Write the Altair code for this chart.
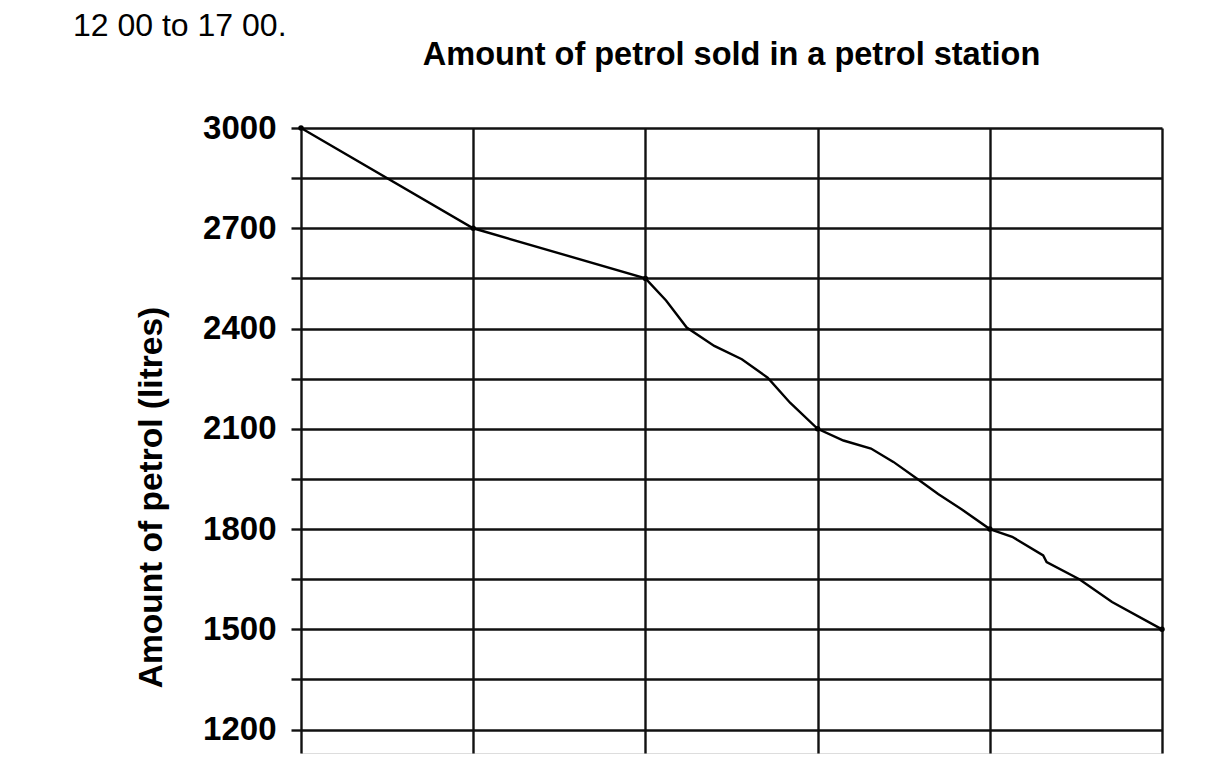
import altair as alt
import pandas as pd

# Main readings: hours after 12:00 and litres of petrol in the tank
hours = [0, 1, 2, 3, 4, 5]
petrol = [3000, 2700, 2550, 2100, 1800, 1500]

# Hand-drawn path (hour position, litres)
trace_t = [0, 1, 2, 2.12, 2.24, 2.40, 2.56, 2.71, 2.84, 3,
           3.15, 3.31, 3.44, 3.58, 3.70, 3.84, 4,
           4.13, 4.31, 4.33, 4.52, 4.71, 5]
trace_v = [3000, 2700, 2550, 2484, 2403, 2348, 2308, 2253, 2178, 2100,
           2065, 2041, 2001, 1950, 1905, 1858, 1800,
           1777, 1721, 1701, 1650, 1582, 1500]

y_ticks = [1200, 1350, 1500, 1650, 1800, 1950, 2100, 2250, 2400, 2550, 2700, 2850, 3000]

title_text = "Amount of petrol sold in a petrol station"
y_title = "Amount of petrol (litres)"
note_text = "12 00 to 17 00."

FONT = "Liberation Sans"
INK = "#111111"
W, H = 861, 625

trace = pd.DataFrame({"t": trace_t, "v": trace_v, "order": list(range(len(trace_t)))})
pts = pd.DataFrame({"t": hours, "v": petrol})

x_enc = alt.X(
    "t:Q",
    scale=alt.Scale(domain=[0, 5], nice=False, zero=False),
    axis=alt.Axis(values=hours, grid=True, domain=False, ticks=False, labels=False,
                  title=None, gridColor=INK, gridWidth=2.4, gridOpacity=1),
)
y_enc = alt.Y(
    "v:Q",
    scale=alt.Scale(domain=[1130, 3000], nice=False, zero=False),
    axis=alt.Axis(
        values=y_ticks,
        labelExpr="datum.value % 300 == 0 ? datum.label : ''",
        format="d",
        grid=True, gridColor=INK, gridWidth=2.4, gridOpacity=1,
        domain=False,
        tickSize=10, tickColor=INK, tickWidth=2.4,
        labelFont=FONT, labelFontSize=33, labelFontWeight="bold", labelColor="black",
        labelPadding=15,
        title=y_title, titleFont=FONT, titleFontSize=33.5, titleFontWeight="bold",
        titleColor="black", titleAngle=270, titleAlign="center", titleBaseline="middle",
        titleX=-150, titleY=369,
    ),
)

line = alt.Chart(trace).mark_line(color="black", strokeWidth=2.4).encode(
    x=x_enc, y=y_enc, order="order:Q"
)
dots = alt.Chart(pts).mark_point(filled=True, color="black", size=30, opacity=1).encode(
    x="t:Q", y="v:Q"
)
note = alt.Chart(pd.DataFrame({"txt": [note_text]})).mark_text(
    font=FONT, fontSize=32, align="left", baseline="top", color="black"
).encode(x=alt.value(-228), y=alt.value(-117), text="txt:N")
title = alt.Chart(pd.DataFrame({"txt": [title_text]})).mark_text(
    font=FONT, fontSize=32.5, fontWeight="bold", align="center", baseline="alphabetic",
    color="black"
).encode(x=alt.value(W / 2), y=alt.value(-63), text="txt:N")

chart = alt.layer(line, dots, note, title).properties(
    width=W,
    height=H,
    autosize=alt.AutoSizeParams(type="none"),
    padding={"left": 293, "top": 120, "right": 30, "bottom": 6},
).configure_view(stroke=None).configure(background="white")

chart.save("out.html", embed_options={"renderer": "svg", "actions": False})
